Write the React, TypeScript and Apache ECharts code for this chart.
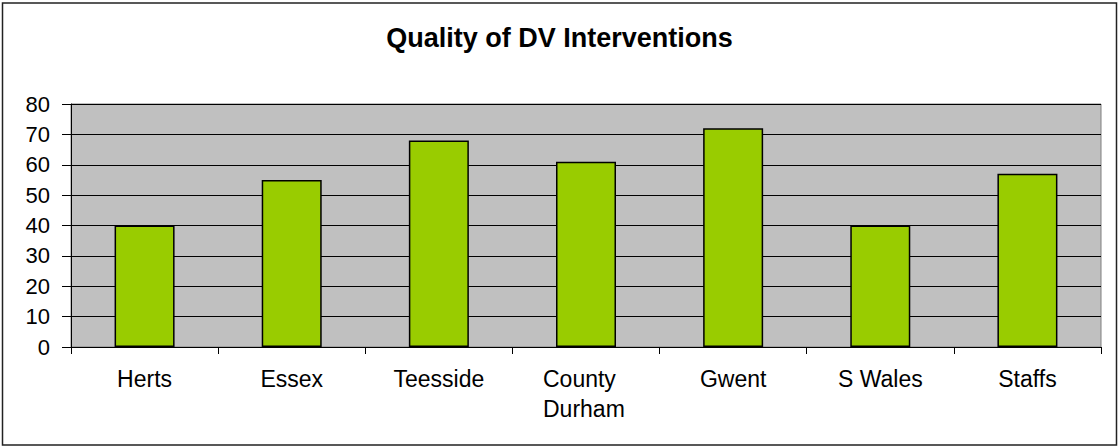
import React, { useEffect, useRef } from "react";
import * as echarts from "echarts";

const categories = ["Herts", "Essex", "Teesside", "County\nDurham", "Gwent", "S Wales", "Staffs"];
const values = [40, 55, 68, 61, 72, 40, 57];
const titleText = "Quality of DV Interventions";

export default function App() {
  const ref = useRef<HTMLDivElement>(null);
  useEffect(() => {
    document.body.style.margin = "0";
    const chart = echarts.init(ref.current!, null, { renderer: "svg" });
    const font = "Arial, 'Liberation Sans', sans-serif";
    chart.setOption({
      animation: false,
      backgroundColor: "#ffffff",
      title: {
        text: titleText,
        left: "center",
        top: 19,
        textStyle: { fontFamily: font, fontSize: 27, fontWeight: "bold", color: "#000" },
      },
      graphic: [
        {
          type: "rect",
          shape: { x: 2.5, y: 3, width: 1114, height: 442 },
          style: { fill: "none", stroke: "#222", lineWidth: 1.5 },
          silent: true,
        },
      ],
      grid: {
        left: 71,
        right: 18,
        top: 104,
        bottom: 100,
        show: true,
        backgroundColor: "#C0C0C0",
        borderColor: "#808080",
        borderWidth: 1,
      },
      xAxis: {
        type: "category",
        data: categories,
        axisLine: { lineStyle: { color: "#000", width: 1 } },
        axisTick: { show: true, alignWithLabel: false, length: 7, lineStyle: { color: "#000" } },
        axisLabel: {
          color: "#000",
          fontFamily: font,
          fontSize: 23,
          lineHeight: 30,
          margin: 17,
          interval: 0,
          formatter: (v: string) =>
            v.includes("\n") ? v.split("\n").map((s) => `{w|${s}}`).join("\n") : v,
          rich: {
            w: {
              width: 86,
              align: "left",
              color: "#000",
              fontFamily: font,
              fontSize: 23,
              lineHeight: 30,
            },
          },
        },
      },
      yAxis: {
        type: "value",
        min: 0,
        max: 80,
        interval: 10,
        axisLine: { show: true, lineStyle: { color: "#000", width: 1 } },
        axisTick: { show: true, length: 9, lineStyle: { color: "#000" } },
        axisLabel: { color: "#000", fontFamily: font, fontSize: 22, margin: 21 },
        splitLine: { lineStyle: { color: "#000", width: 1 } },
      },
      series: [
        {
          type: "bar",
          data: values,
          barWidth: 60,
          itemStyle: { color: "#99CC00", borderColor: "#000", borderWidth: 1.5 },
        },
      ],
    });
    return () => chart.dispose();
  }, []);
  return <div ref={ref} style={{ width: 1119, height: 447 }} />;
}
